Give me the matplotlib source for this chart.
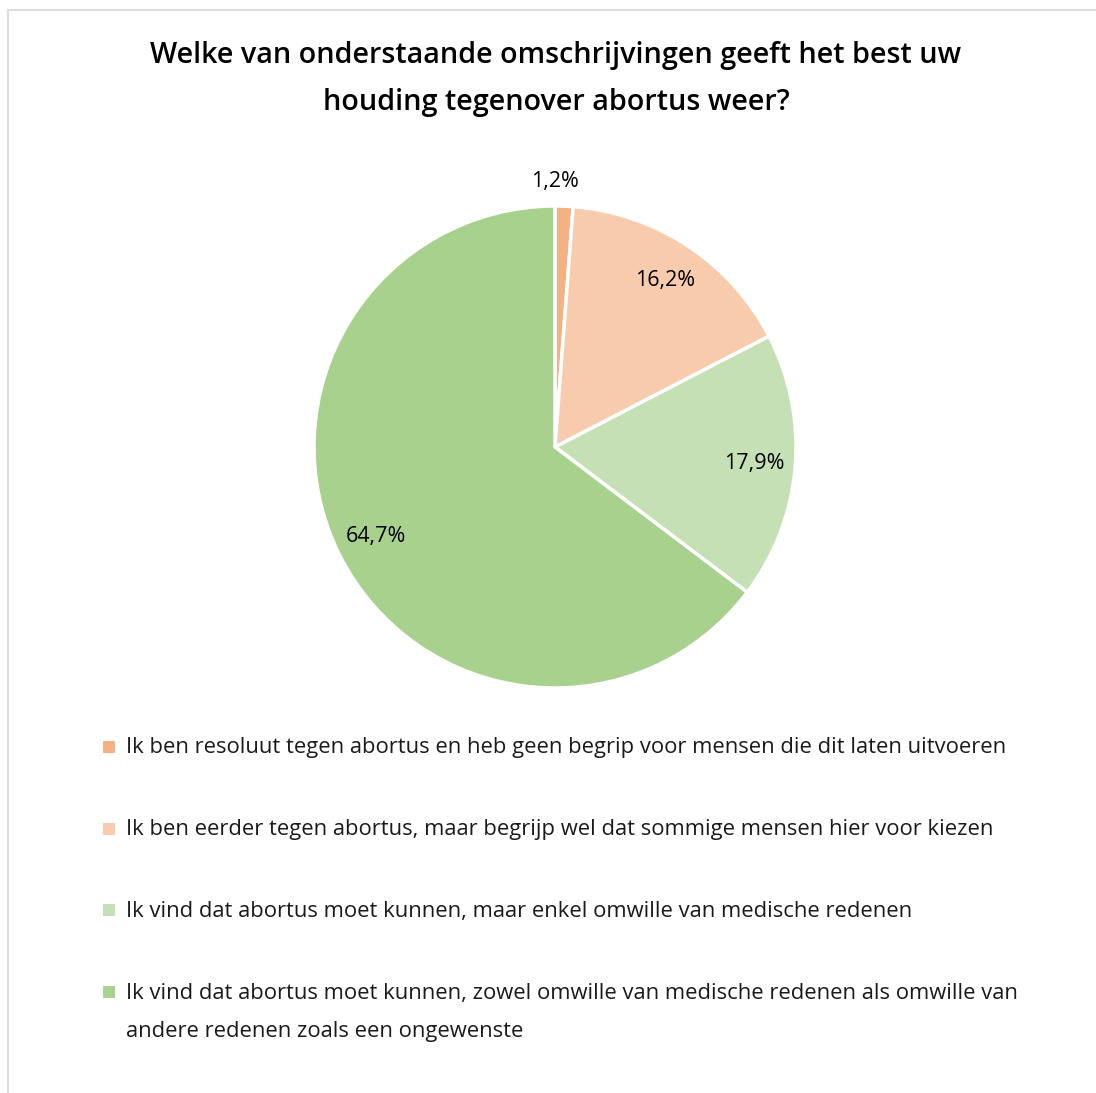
import matplotlib.pyplot as plt
from matplotlib.patches import Rectangle
from matplotlib.lines import Line2D

# Data
labels = [
    'Ik ben resoluut tegen abortus en heb geen begrip voor mensen die dit laten uitvoeren',
    'Ik ben eerder tegen abortus, maar begrijp wel dat sommige mensen hier voor kiezen',
    'Ik vind dat abortus moet kunnen, maar enkel omwille van medische redenen',
    'Ik vind dat abortus moet kunnen, zowel omwille van medische redenen als omwille van\nandere redenen zoals een ongewenste',
]
values = [1.2, 16.2, 17.9, 64.7]
colors = ['#F4B183', '#F8CBAD', '#C5E0B4', '#A9D18E']
title = 'Welke van onderstaande omschrijvingen geeft het best uw\nhouding tegenover abortus weer?'

plt.rcParams['font.family'] = ['Open Sans', 'DejaVu Sans']

fig = plt.figure(figsize=(10.96, 10.93), dpi=100)
W, H = 1096, 1093

# light frame
fig.add_artist(Line2D([8 / W, 1.0], [1 - 10 / H, 1 - 10 / H], color='#DDDDDD', lw=1.5))
fig.add_artist(Line2D([8 / W, 8 / W], [0, 1 - 10 / H], color='#DDDDDD', lw=1.5))

fig.text(556 / W, 1 - 79 / H, title, ha='center', va='center', fontsize=20.7,
         fontweight='semibold', linespacing=1.85, color='#000000')

# pie: center (555, 447), radius 241 px
r = 241
ax = fig.add_axes([(555 - r) / W, 1 - (447 + r) / H, 2 * r / W, 2 * r / H])
wedges, texts, autotexts = ax.pie(
    values, colors=colors, startangle=90, counterclock=False,
    autopct=lambda p: f'{p:.1f}%'.replace('.', ','), pctdistance=0.83,
    wedgeprops=dict(edgecolor='white', linewidth=2.5),
    textprops=dict(fontsize=15.5, color='#000000'))
autotexts[0].set_position((0.0, 1.0 + 0.10))
ax.set_xlim(-1, 1)
ax.set_ylim(-1, 1)
ax.set_aspect('equal')
ax.axis('off')

# legend
ys = [747, 829, 910, 992]
for lab, col, y in zip(labels, colors, ys):
    fig.add_artist(Rectangle((103 / W, 1 - (y + 6) / H), 12 / W, 12 / H,
                             facecolor=col, edgecolor='none', transform=fig.transFigure))
    for i, line in enumerate(lab.split('\n')):
        fig.text(126 / W, 1 - (y + 1 + 38 * i) / H, line, ha='left', va='center',
                 fontsize=15.8, color='#1a1a1a')

fig.savefig('out.png', dpi=100)
